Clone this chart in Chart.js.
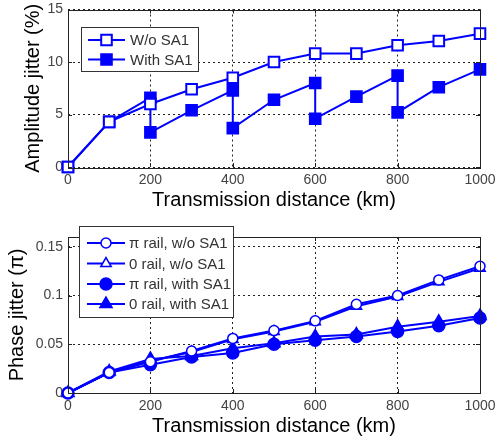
<!DOCTYPE html>
<html><head><meta charset="utf-8">
<script src="https://cdn.jsdelivr.net/npm/chart.js"></script>
<style>
html,body{margin:0;padding:0;background:#fff;width:497px;height:443px;overflow:hidden}
canvas{position:absolute;left:0}
#c1{top:0}
#c2{top:215px}
</style></head><body>
<canvas id="c1" width="497" height="215"></canvas>
<canvas id="c2" width="497" height="228"></canvas>
<script>
// ---- data ----
const distanceTicks = [0, 200, 400, 600, 800, 1000];
const distance = [0, 100, 200, 300, 400, 500, 600, 700, 800, 900, 1000];
const ampTicks = [0, 5, 10, 15];
const phaseTicks = [0, 0.05, 0.1, 0.15];

const ampLabels = ['W/o SA1', 'With SA1'];
const ampWithoutSA1 = [0, 4.3, 6.0, 7.4, 8.5, 10.0, 10.8, 10.8, 11.6, 12.0, 12.7];
const ampWithSA1Dist = [0, 100, 200, 200, 300, 400, 400, 500, 600, 600, 700, 800, 800, 900, 1000];
const ampWithSA1 = [0, 4.3, 6.6, 3.3, 5.4, 7.3, 3.7, 6.4, 8.0, 4.6, 6.7, 8.7, 5.2, 7.6, 9.3];

const phaseLabels = ['\u03C0 rail, w/o SA1', '0 rail, w/o SA1', '\u03C0 rail, with SA1', '0 rail, with SA1'];
const phasePiWithout = [0, 0.021, 0.032, 0.043, 0.056, 0.064, 0.074, 0.091, 0.100, 0.116, 0.130];
const phaseZeroWithout = [0, 0.021, 0.033, 0.042, 0.055, 0.063, 0.073, 0.089, 0.099, 0.114, 0.128];
const phasePiWith = [0, 0.021, 0.029, 0.037, 0.041, 0.050, 0.054, 0.058, 0.063, 0.069, 0.077];
const phaseZeroWith = [0, 0.022, 0.035, 0.038, 0.046, 0.051, 0.058, 0.060, 0.068, 0.073, 0.079];

// ---- styling / helpers ----
const BLUE = '#0000ff';
const FONT = "'Liberation Sans', Arial, sans-serif";
const pts = (xs, ys) => ys.map((y, i) => ({x: xs[i], y}));

function drawMarker(ctx, style, r, x, y) {
  ctx.beginPath();
  if (style === 'rect') {
    const s = Math.SQRT1_2 * r;
    ctx.rect(x - s, y - s, 2 * s, 2 * s);
  } else if (style === 'triangle') {
    let a = 0;
    ctx.moveTo(x + Math.sin(a) * r, y - Math.cos(a) * r);
    a += 2 * Math.PI / 3; ctx.lineTo(x + Math.sin(a) * r, y - Math.cos(a) * r);
    a += 2 * Math.PI / 3; ctx.lineTo(x + Math.sin(a) * r, y - Math.cos(a) * r);
    ctx.closePath();
  } else {
    ctx.arc(x, y, r, 0, Math.PI * 2);
  }
  ctx.fill();
  ctx.stroke();
}

const frameLegend = {
  id: 'frameLegend',
  afterDraw(chart, args, L) {
    const {ctx, chartArea: a} = chart;
    const xs = chart.scales.x, ys = chart.scales.y;
    ctx.save();
    ctx.setLineDash([]);
    ctx.strokeStyle = '#222';
    ctx.lineWidth = 1;
    ctx.beginPath();
    xs.ticks.forEach(t => {
      const px = Math.round(xs.getPixelForValue(t.value)) + 0.5;
      ctx.moveTo(px, a.bottom); ctx.lineTo(px, a.bottom - 4);
      ctx.moveTo(px, a.top); ctx.lineTo(px, a.top + 4);
    });
    ys.ticks.forEach(t => {
      const py = Math.round(ys.getPixelForValue(t.value)) + 0.5;
      ctx.moveTo(a.left, py); ctx.lineTo(a.left + 4, py);
      ctx.moveTo(a.right, py); ctx.lineTo(a.right - 4, py);
    });
    ctx.stroke();
    ctx.strokeRect(Math.round(a.left) + 0.5, Math.round(a.top) + 0.5,
                   Math.round(a.right - a.left), Math.round(a.bottom - a.top));
    // legend
    ctx.fillStyle = '#fff';
    ctx.fillRect(L.x, L.y, L.w, L.h);
    ctx.strokeStyle = '#333';
    ctx.strokeRect(L.x + 0.5, L.y + 0.5, L.w, L.h);
    chart.data.datasets.forEach((ds, i) => {
      const y = L.rows[i];
      ctx.strokeStyle = ds.borderColor;
      ctx.lineWidth = ds.borderWidth;
      ctx.beginPath(); ctx.moveTo(L.x0, y); ctx.lineTo(L.x1, y); ctx.stroke();
      ctx.fillStyle = ds.pointBackgroundColor;
      ctx.strokeStyle = ds.pointBorderColor;
      ctx.lineWidth = ds.pointBorderWidth;
      drawMarker(ctx, ds.pointStyle, ds.pointRadius, (L.x0 + L.x1) / 2, y);
      ctx.fillStyle = '#333';
      ctx.font = L.font;
      ctx.textBaseline = 'middle';
      ctx.textAlign = 'left';
      ctx.fillText(ds.label, L.tx, y + 1);
    });
    ctx.restore();
  }
};

function ds(label, data, style, r, filled, bw) {
  return {
    label, data,
    borderColor: BLUE, borderWidth: 2,
    pointStyle: style, pointRadius: r, pointHoverRadius: r,
    pointBackgroundColor: filled ? BLUE : '#fff',
    pointBorderColor: BLUE, pointBorderWidth: bw,
    tension: 0, clip: false, fill: false
  };
}

function noPad(s) { s.paddingLeft = 0; s.paddingRight = 0; s.paddingTop = 0; s.paddingBottom = 0; }

function axes(yTicks, yMax, yTitle, yWidth, xHeight, xTitlePad) {
  return {
    x: {
      type: 'linear', min: 0, max: 1000,
      afterBuildTicks: s => { s.ticks = distanceTicks.map(v => ({value: v})); },
      afterFit: s => { s.height = xHeight; noPad(s); },
      ticks: {color: '#444', font: {family: FONT, size: 14}, padding: 5, maxRotation: 0,
              callback: v => String(v)},
      grid: {color: '#222', lineWidth: 1, drawTicks: false},
      border: {display: false, dash: [2, 3]},
      title: {display: true, text: 'Transmission distance (km)', color: '#000',
              font: {family: FONT, size: 20}, padding: {top: 0, bottom: xTitlePad}}
    },
    y: {
      type: 'linear', min: 0, max: yMax,
      afterBuildTicks: s => { s.ticks = yTicks.map(v => ({value: v})); },
      afterFit: s => { s.width = yWidth; noPad(s); },
      ticks: {color: '#444', font: {family: FONT, size: 14}, padding: 5,
              callback: v => String(+Number(v).toFixed(2))},
      grid: {color: '#222', lineWidth: 1, drawTicks: false},
      border: {display: false, dash: [2, 3]},
      title: {display: true, text: yTitle, color: '#000',
              font: {family: FONT, size: 20}, padding: {top: 0, bottom: 0}}
    }
  };
}

new Chart(document.getElementById('c1'), {
  type: 'line',
  data: {
    datasets: [
      ds(ampLabels[0], pts(distance, ampWithoutSA1), 'rect', 7.5, false, 2),
      ds(ampLabels[1], pts(ampWithSA1Dist, ampWithSA1), 'rect', 7.5, true, 2)
    ]
  },
  options: {
    responsive: false, animation: false, devicePixelRatio: 1,
    layout: {padding: {left: 21, right: 17, top: 8.5, bottom: 0}},
    scales: axes(ampTicks, 15, 'Amplitude jitter (%)', 47, 48, 3),
    plugins: {
      legend: {display: false}, tooltip: {enabled: false},
      frameLegend: {x: 81, y: 27, w: 117, h: 44, rows: [40, 59.5], x0: 88, x1: 125, tx: 130,
                    font: '15px ' + FONT}
    }
  },
  plugins: [frameLegend]
});

new Chart(document.getElementById('c2'), {
  type: 'line',
  data: {
    datasets: [
      ds(phaseLabels[0], pts(distance, phasePiWithout), 'circle', 5, false, 1.5),
      ds(phaseLabels[1], pts(distance, phaseZeroWithout), 'triangle', 6, false, 1.5),
      ds(phaseLabels[2], pts(distance, phasePiWith), 'circle', 6, true, 1.5),
      ds(phaseLabels[3], pts(distance, phaseZeroWith), 'triangle', 7, true, 1.5)
    ]
  },
  options: {
    responsive: false, animation: false, devicePixelRatio: 1,
    layout: {padding: {left: 5, right: 17, top: 22, bottom: 0}},
    scales: axes(phaseTicks, 0.16, 'Phase jitter (\u03C0)', 63, 50, 4.3),
    plugins: {
      legend: {display: false}, tooltip: {enabled: false},
      frameLegend: {x: 79, y: 11, w: 154, h: 91, rows: [28, 48.5, 69, 89], x0: 87, x1: 125, tx: 129,
                    font: '15px ' + FONT}
    }
  },
  plugins: [frameLegend]
});
</script>
</body></html>
